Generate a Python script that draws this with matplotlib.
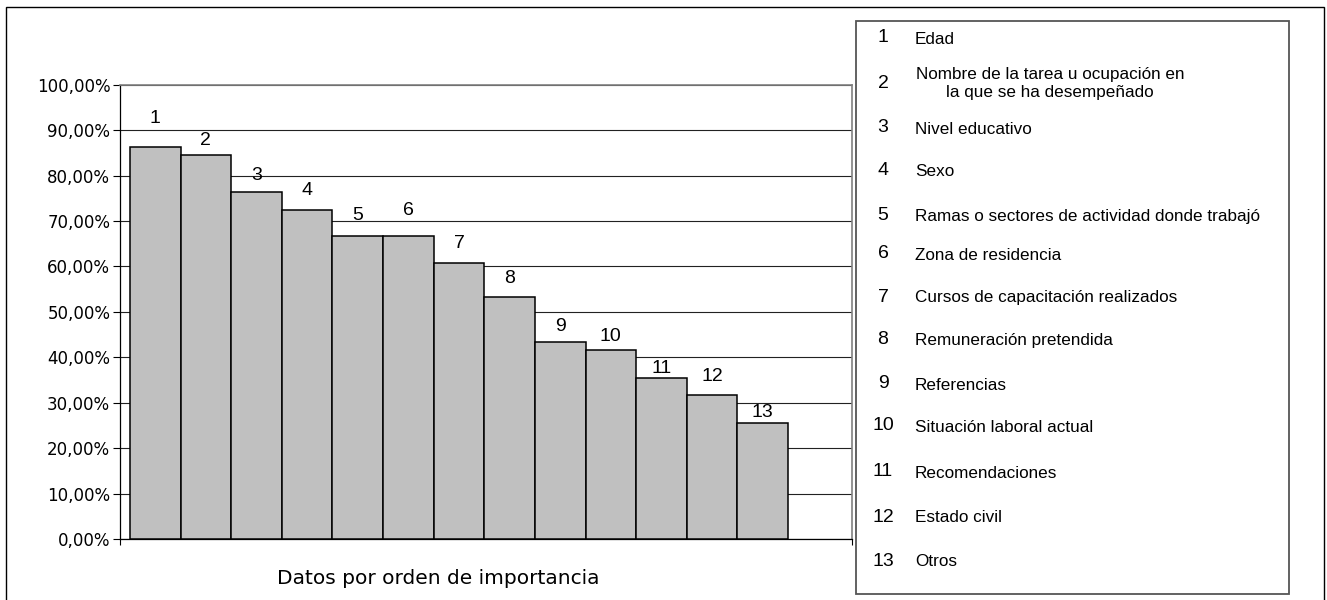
import matplotlib
matplotlib.use("Agg")
import matplotlib.pyplot as plt
from matplotlib.patches import Rectangle
from matplotlib.ticker import FuncFormatter, MultipleLocator

# ---------------- data ----------------
ranks = list(range(1, 14))
values = [0.862, 0.845, 0.763, 0.724, 0.667, 0.667, 0.607, 0.533,
          0.434, 0.416, 0.354, 0.317, 0.255]
bar_labels = [str(r) for r in ranks]
legend_names = [
    "Edad",
    "Nombre de la tarea u ocupación en\nla que se ha desempeñado",
    "Nivel educativo",
    "Sexo",
    "Ramas o sectores de actividad donde trabajó",
    "Zona de residencia",
    "Cursos de capacitación realizados",
    "Remuneración pretendida",
    "Referencias",
    "Situación laboral actual",
    "Recomendaciones",
    "Estado civil",
    "Otros",
]
x_label = "Datos por orden de importancia"

# ---------------- layout (pixels) ----------------
W, H = 1327, 600
label_dy_px = [29, 15, 17, 20, 20, 25, 20, 18, 15, 14, 10, 18, 11]
legend_row_y_px = [38, 84, 128, 171, 215, 254, 297, 340, 384, 426, 472, 517, 561]

fig = plt.figure(figsize=(W / 100, H / 100), dpi=100)

def fx(px):
    return px / W

def fy(py):
    return 1 - py / H

ax_left, ax_right, ax_top, ax_bottom = 120, 852, 84.7, 539
ax = fig.add_axes([fx(ax_left), fy(ax_bottom), fx(ax_right - ax_left),
                   (ax_bottom - ax_top) / H])

unit_px = (788 - 130) / 13.0
xmin = 0.5 - (130 - ax_left) / unit_px
xmax = 0.5 + (ax_right - 130) / unit_px

ax.bar(ranks, values, width=1.0, color="#C0C0C0", edgecolor="black",
       linewidth=1.1, zorder=3)

for r, v, lab, dy in zip(ranks, values, bar_labels, label_dy_px):
    ax.annotate(lab, (r, v), xytext=(0, dy * 0.72), textcoords="offset points",
                ha="center", va="center", fontsize=14,
                family="Liberation Sans", zorder=4)

ax.set_xlim(xmin, xmax)
ax.set_ylim(0, 1.0)
ax.yaxis.set_major_locator(MultipleLocator(0.1))
ax.yaxis.set_major_formatter(
    FuncFormatter(lambda v, p: f"{v * 100:.2f}".replace(".", ",") + "%"))
ax.grid(axis="y", color="#222222", linewidth=0.8, zorder=0)
ax.set_axisbelow(True)
ax.set_xticks([xmin, xmax])
ax.set_xticklabels([])
ax.tick_params(axis="x", direction="out", length=4, width=0.8, color="black")
ax.tick_params(axis="y", direction="out", length=5, width=0.8, color="black",
               pad=2, labelsize=12)
for t in ax.get_yticklabels():
    t.set_family("DejaVu Sans")

ax.spines["left"].set_color("black")
ax.spines["left"].set_linewidth(0.9)
ax.spines["bottom"].set_color("black")
ax.spines["bottom"].set_linewidth(0.9)
ax.spines["top"].set_color("#808080")
ax.spines["top"].set_linewidth(1.2)
ax.spines["right"].set_color("#808080")
ax.spines["right"].set_linewidth(1.2)

fig.text(fx(438), fy(578), x_label, ha="center", va="center", fontsize=14.5,
         family="DejaVu Sans")

# outer border
fig.patches.append(Rectangle((fx(6), fy(605)), fx(1324 - 6), (605 - 7) / H,
                             transform=fig.transFigure, fill=False,
                             edgecolor="black", linewidth=1.0))
# legend box
fig.patches.append(Rectangle((fx(856), fy(594)), fx(1289 - 856), (594 - 21) / H,
                             transform=fig.transFigure, fill=False,
                             edgecolor="#555555", linewidth=1.3))

for r, name, yy in zip(ranks, legend_names, legend_row_y_px):
    fig.text(fx(883), fy(yy), str(r), ha="center", va="center", fontsize=14,
             family="Liberation Sans")
    if "\n" in name:
        fig.text(fx(1050), fy(yy), name, ha="center", va="center",
                 multialignment="center", fontsize=12.3,
                 family="Liberation Sans", linespacing=1.25)
    else:
        fig.text(fx(915), fy(yy + 1), name, ha="left", va="center",
                 fontsize=12.3, family="Liberation Sans")

fig.savefig("out.png", dpi=100)
